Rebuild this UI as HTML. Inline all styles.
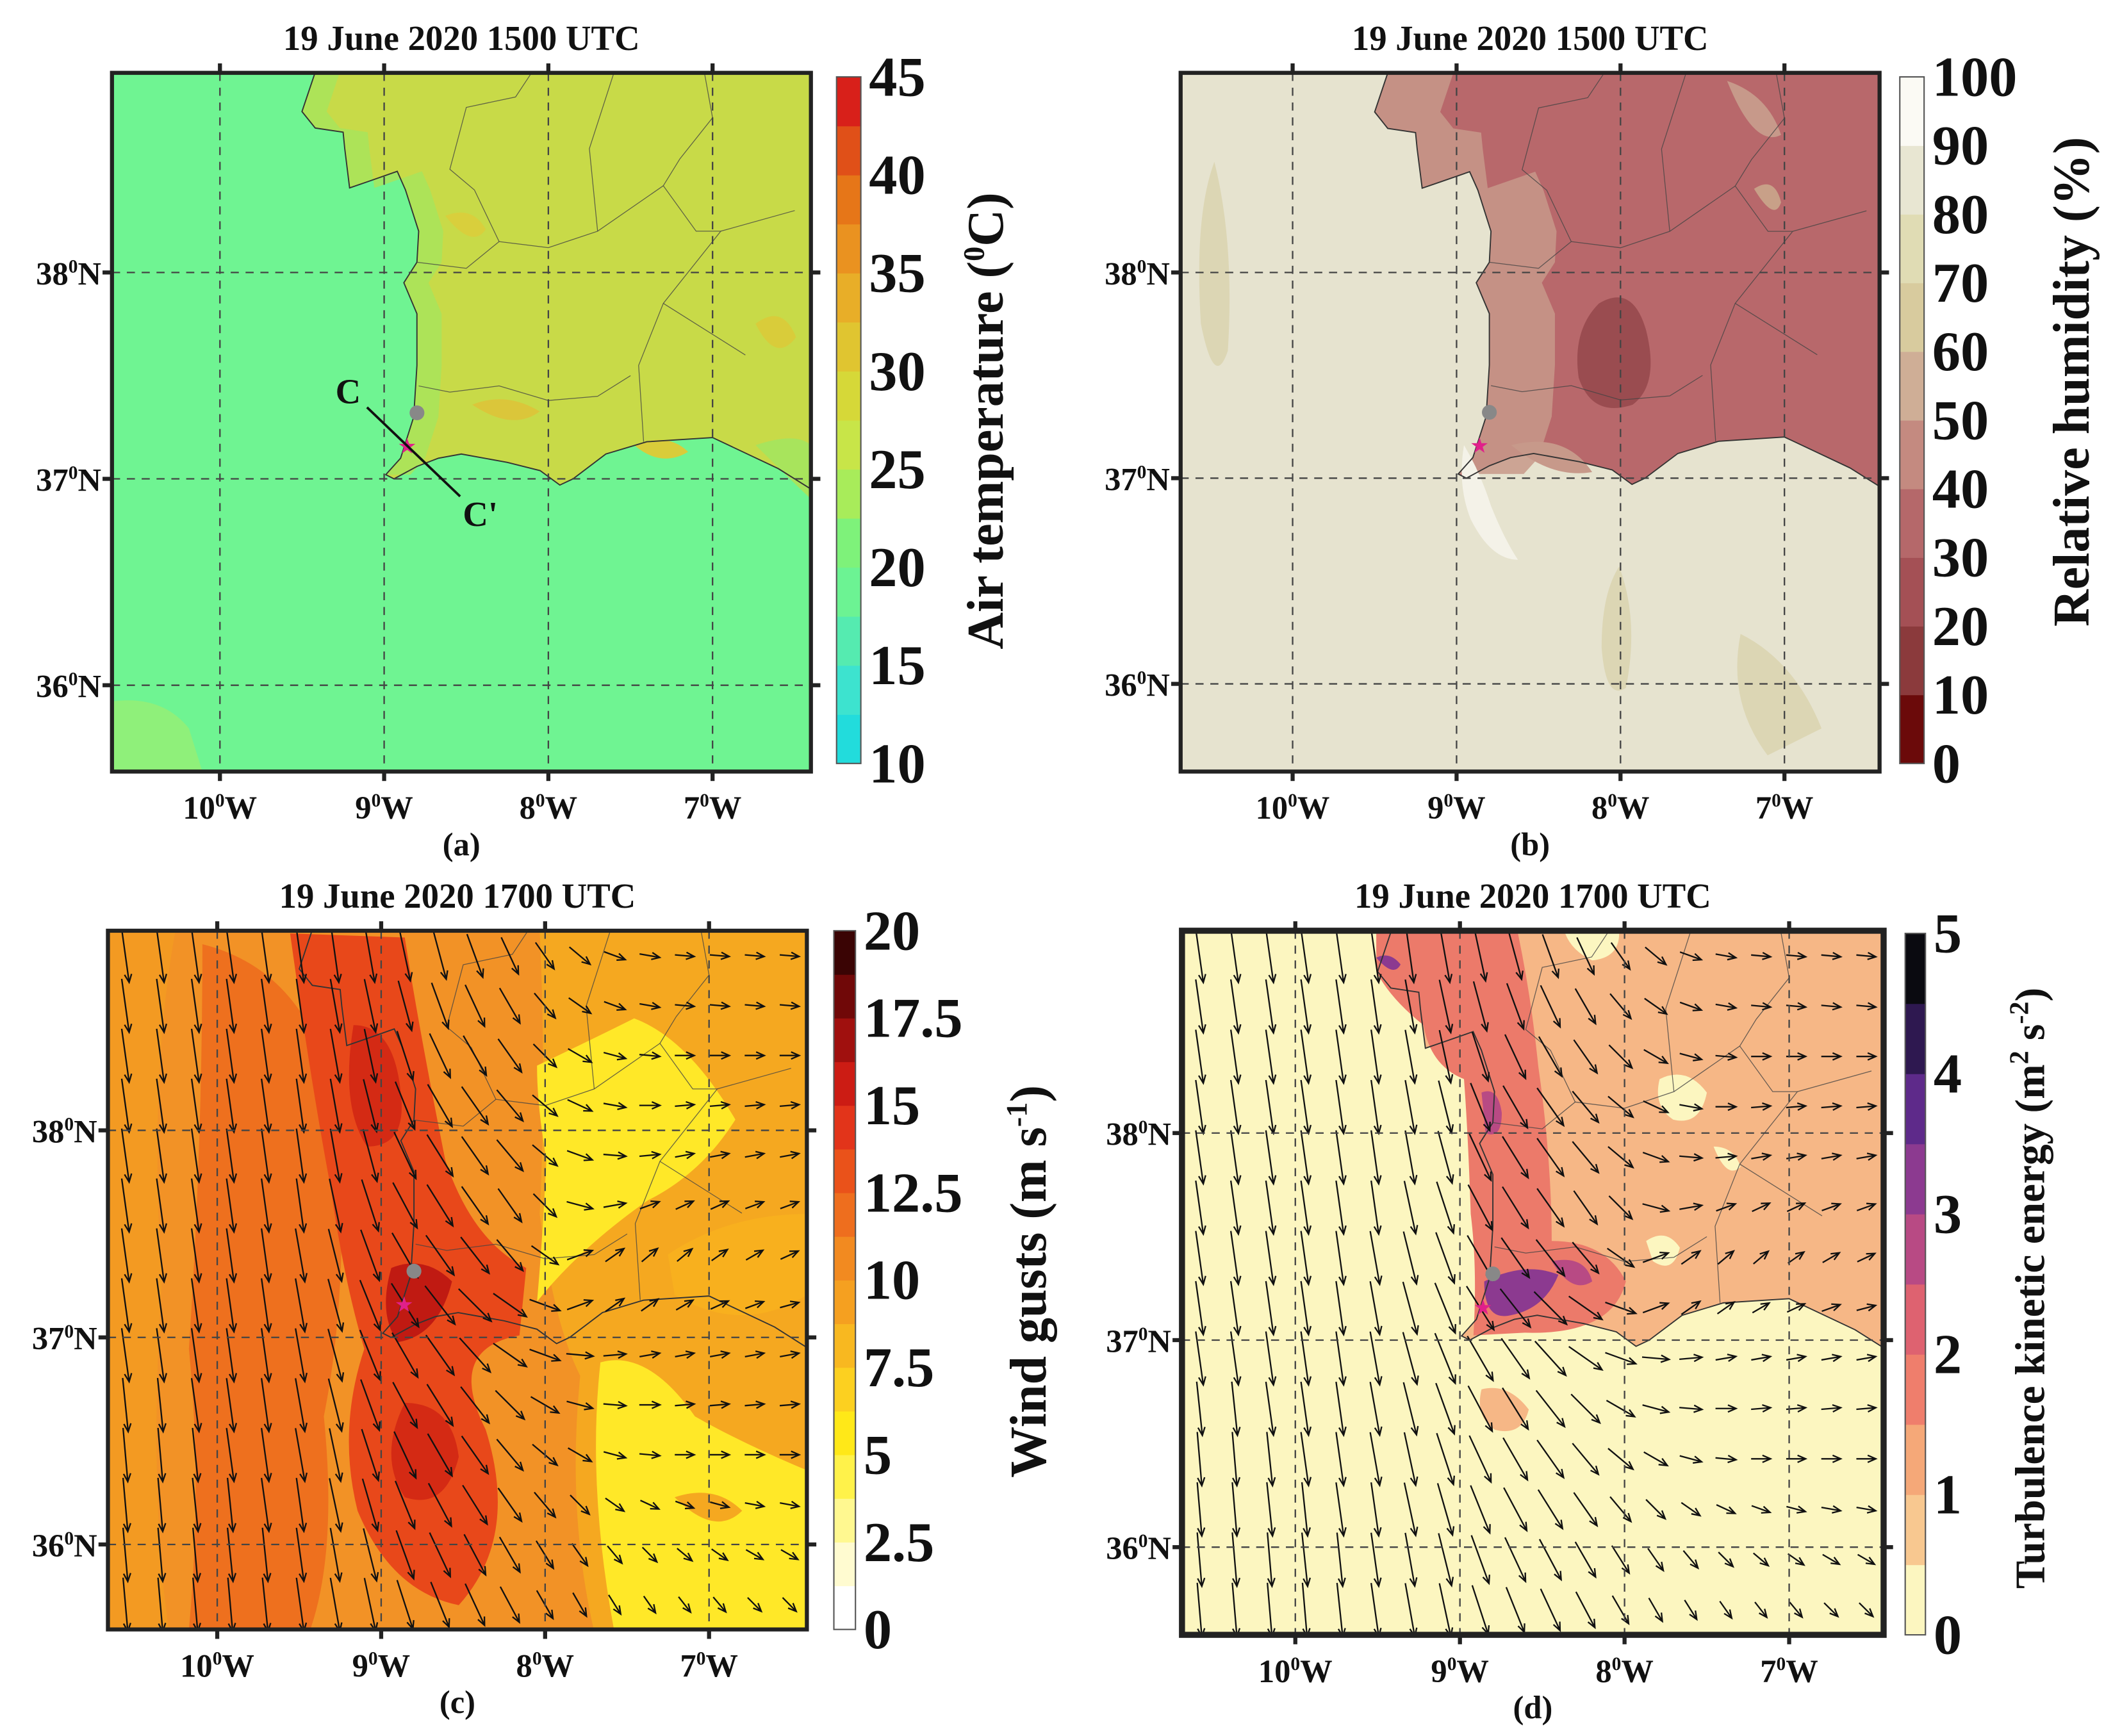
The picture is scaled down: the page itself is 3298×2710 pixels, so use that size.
<!DOCTYPE html>
<html><head><meta charset="utf-8">
<style>
html,body{margin:0;padding:0;background:#fff;}
svg{display:block;}
text{font-family:"Liberation Serif",serif;font-weight:bold;fill:#111;}
</style></head>
<body>
<svg id="fig" xmlns="http://www.w3.org/2000/svg" width="3298" height="2710" viewBox="0 0 1566 1287" preserveAspectRatio="none">
<rect x="0" y="0" width="1566" height="1287" fill="#fff"/>
</svg>
<script>
// ---- data arrays ----
const lonTicks = [-10, -9, -8, -7];
const lonTickLabels = ["10", "9", "8", "7"];
const latTicks = [38, 37, 36];
const latTickLabels = ["38", "37", "36"];

const tempLevels = [10,12.5,15,17.5,20,22.5,25,27.5,30,32.5,35,37.5,40,42.5,45];
const tempColors = ["#22dcdc","#3de3cf","#55ebb0","#6cf393","#7ef27a","#a8ec5a","#c8e548","#d6d838","#e0c530","#e8ae28","#ea9220","#e67618","#e05018","#d8201a"];
const tempTickLabels = ["10","15","20","25","30","35","40","45"];

const rhLevels = [0,10,20,30,40,50,60,70,80,90,100];
const rhColors = ["#6b0a0a","#8b3a3c","#a45055","#b5686a","#c48a80","#cfae96","#d8cb9e","#e0dcb4","#e8e6d2","#fbfaf4"];
const rhTickLabels = ["0","10","20","30","40","50","60","70","80","90","100"];

const gustLevels = [0,1.25,2.5,3.75,5,6.25,7.5,8.75,10,11.25,12.5,13.75,15,16.25,17.5,18.75,20];
const gustColors = ["#ffffff","#fffbd0","#fff890","#fff24a","#ffe818","#fcd020","#f8b820","#f5a020","#f28a20","#ee6e1e","#ea521a","#e2341a","#cc1c14","#a0100e","#700808","#3a0404"];
const gustTickLabels = ["0","2.5","5","7.5","10","12.5","15","17.5","20"];

const tkeLevels = [0,0.5,1,1.5,2,2.5,3,3.5,4,4.5,5];
const tkeColors = ["#fcf6c0","#f8c890","#f5a878","#ef7e6c","#de6270","#b84a84","#8c3a90","#5e2a8a","#2e1850","#0a0a10"];
const tkeTickLabels = ["0","1","2","3","4","5"];

// wind direction (deg from south, + toward east) per row/col; speed per column
const windAngles = [
[8,8,8,8,8,8,8,10,12,15,20,25,35,50,70,80,85,85,85,85],
[8,8,8,8,8,8,10,12,15,20,25,30,40,55,70,80,85,85,85,85],
[8,8,8,8,8,8,10,12,18,25,30,35,45,60,75,85,90,90,90,90],
[8,8,8,8,8,8,10,14,22,30,35,40,50,65,80,90,95,95,95,95],
[8,8,8,8,8,8,10,15,25,32,35,40,50,70,85,95,100,100,100,100],
[8,8,8,8,8,8,12,18,28,32,35,35,45,75,100,110,115,115,110,110],
[8,8,8,8,8,10,14,20,30,35,38,40,55,110,125,130,130,125,120,115],
[8,8,8,8,8,10,15,22,32,38,45,55,70,110,125,125,120,115,110,105],
[8,8,8,8,8,10,15,22,30,35,42,55,70,85,95,100,100,100,100,100],
[6,6,8,8,8,10,14,20,28,32,38,45,60,75,85,90,95,95,95,95],
[5,5,6,8,8,10,12,18,25,30,35,40,50,60,75,85,90,90,90,90],
[5,5,6,6,8,8,12,16,22,28,32,35,40,45,55,65,70,75,80,80],
[5,5,5,6,6,8,10,14,20,25,28,30,32,35,40,45,50,55,60,60],
[5,5,5,5,6,8,10,12,18,22,25,28,30,30,32,35,38,40,45,45]];
const windSpeed = [1,1,1,1,1,1,1,1,0.95,0.9,0.85,0.75,0.6,0.5,0.42,0.38,0.36,0.36,0.36,0.36];

// coastline & borders (lon, lat)
const landPoly = [[-9.41,39.3],[-9.42,38.97],[-9.50,38.78],[-9.42,38.70],[-9.25,38.68],[-9.24,38.60],[-9.21,38.41],[-9.10,38.44],[-8.92,38.49],[-8.87,38.40],[-8.79,38.20],[-8.80,38.05],[-8.88,37.95],[-8.80,37.80],[-8.80,37.55],[-8.82,37.30],[-8.90,37.10],[-8.99,37.02],[-8.94,37.0],[-8.80,37.06],[-8.67,37.10],[-8.53,37.12],[-8.25,37.08],[-8.05,37.04],[-7.93,36.97],[-7.85,37.0],[-7.65,37.12],[-7.40,37.18],[-7.0,37.2],[-6.6,37.05],[-6.3,36.9],[-6.0,36.8],[-6.0,39.3]];
const borders = [
[[-7.05,38.97],[-7.0,38.75],[-7.2,38.55],[-7.3,38.42],[-7.1,38.2],[-6.95,38.2],[-7.3,37.85],[-7.45,37.55],[-7.42,37.18]],
[[-8.79,37.45],[-8.6,37.42],[-8.3,37.45],[-8.0,37.38],[-7.7,37.40],[-7.5,37.5]],
[[-8.80,38.05],[-8.5,38.02],[-8.3,38.15],[-8.0,38.12],[-7.7,38.2],[-7.3,38.42]],
[[-8.3,38.15],[-8.45,38.4],[-8.6,38.5],[-8.5,38.8],[-8.2,38.85],[-8.1,38.97]],
[[-7.7,38.2],[-7.75,38.6],[-7.6,38.97]],
[[-6.95,38.2],[-6.5,38.3]],
[[-7.3,37.85],[-6.8,37.6]]];

// ---- drawing ----
const NS="http://www.w3.org/2000/svg";
const svg=document.getElementById('fig');
const SERIF='"Liberation Serif", serif';
function el(tag,attrs,parent){const e=document.createElementNS(NS,tag);for(const k in attrs)e.setAttribute(k,attrs[k]);(parent||svg).appendChild(e);return e;}

const panels={
 a:{fx:83,fy:54,fw:518,fh:518,x10:163,dx:121.7,y38:202,dy:153,title:"19 June 2020 1500 UTC",letter:"(a)",cb:{x:620,y:57,w:18,h:509},frame:3},
 b:{fx:875,fy:54,fw:518,fh:518,x10:958,dx:121.5,y38:202,dy:152.5,title:"19 June 2020 1500 UTC",letter:"(b)",cb:{x:1408,y:57,w:18,h:509},frame:3},
 c:{fx:80,fy:690,fw:518,fh:518,x10:161,dx:121.5,y38:838,dy:153.5,title:"19 June 2020 1700 UTC",letter:"(c)",cb:{x:618,y:690,w:16,h:518},frame:3},
 d:{fx:876,fy:690,fw:520,fh:522,x10:960,dx:122,y38:840,dy:153.5,title:"19 June 2020 1700 UTC",letter:"(d)",cb:{x:1412,y:692,w:15,h:520},frame:4.5}
};
function px(p,lon){return p.x10+(lon+10)*p.dx;}
function py(p,lat){return p.y38-(lat-38)*p.dy;}
function pathFrom(p,pts,close){return pts.map((q,i)=>(i?'L':'M')+px(p,q[0]).toFixed(1)+','+py(p,q[1]).toFixed(1)).join('')+(close?'Z':'');}

const panelStyles={
 a:{ocean:"#6ff492",land:"#c8da48",coast:"#a8e45c",cw:0.15,
    blobs:[["#8ff07a","M83,520 Q120,515 140,540 L150,572 L83,572Z"],["#d9cf3c","M330,160 q20,-8 30,10 q-10,15 -30,-10Z"],["#dbc63a","M350,300 q25,-10 50,5 q-20,15 -50,-5Z"],["#d9cc3a","M560,240 q20,-15 30,10 q-15,20 -30,-10Z"],["#d9cc3a","M470,330 q25,-10 40,5 q-20,12 -40,-5Z"],["#a8e45c","M560,330 Q590,320 601,330 L601,370 Q580,350 560,330Z"]]},
 b:{ocean:"#e6e3cf",land:"#b8686b",coast:"#c7998a",cw:0.4,
    blobs:[["#dcd6b4","M900,120 q15,60 10,140 q-10,30 -20,-20 q-5,-80 10,-120Z"],["#dcd6b4","M1200,420 q15,40 5,90 q-15,10 -18,-30 q0,-40 13,-60Z"],["#dcd6b4","M1290,470 q40,20 60,70 l-40,20 q-30,-40 -20,-90Z"],["#9a4c50","M1185,225 q25,-15 35,20 q10,40 -10,55 q-30,10 -40,-20 q-5,-35 15,-55Z"],["#c8a088","M1300,140 q15,-10 20,10 q-5,15 -20,-10Z"],["#c7998a","M1280,60 q30,10 40,40 q-20,10 -40,-40Z"],["#c7998a","M1120,330 q40,-10 60,20 q-30,5 -60,-20Z"],["#f4f2e8","M1085,330 q12,20 20,45 q10,25 20,40 q-20,0 -35,-30 q-10,-25 -5,-55Z"]]},
 c:{ocean:"#f29226",land:"#f29226",coast:null,
    blobs:[["#f39a22","M80,690 L130,690 Q110,800 120,950 Q110,1100 125,1208 L80,1208Z"],["#ee701e","M150,700 Q230,720 250,820 Q260,950 240,1050 Q250,1150 230,1208 L140,1208 Q150,1100 140,1000 Q150,850 150,700Z"],["#e8481a","M215,692 L300,695 Q310,760 330,860 Q350,920 390,940 L385,990 Q330,1000 360,1060 Q385,1140 340,1190 Q290,1180 265,1120 Q250,1060 270,1000 Q255,950 245,880 Q230,800 215,692Z"],["#d42a14","M262,760 q30,0 35,50 q5,40 -25,40 q-20,-30 -10,-90Z"],["#c01a12","M290,940 q25,-10 45,10 q-10,40 -40,45 q-15,-20 -5,-55Z"],["#d42a14","M300,1040 q35,0 40,40 q-10,40 -40,30 q-20,-30 0,-70Z"],["#f5a820","M400,690 L598,690 L598,1208 L440,1208 Q420,1120 430,1020 Q410,980 400,900 Q405,800 400,690Z"],["#ffe828","M398,790 Q440,770 470,755 Q510,770 545,830 Q520,870 480,890 Q430,925 398,965 Q402,920 405,860 Q398,820 398,790Z"],["#ffe828","M445,1010 Q480,1000 515,1050 Q550,1070 598,1090 L598,1208 L455,1208 Q435,1100 445,1010Z"],["#f8b01e","M495,930 Q540,900 598,900 L598,960 Q550,990 500,960Z"],["#f5a820","M500,1110 q30,-10 50,10 q-20,20 -50,-10Z"]]},
 d:{ocean:"#fcf6c0",land:"#f6b786",coast:null,
    blobs:[["#ec7a6a","M1020,692 L1125,692 Q1135,740 1140,790 Q1150,860 1150,920 Q1190,920 1205,950 Q1195,990 1130,988 L1092,990 Q1095,940 1090,900 Q1088,840 1085,800 Q1060,790 1055,760 Q1030,740 1020,720Z"],["#fcf6c0","M1160,692 L1200,692 Q1200,710 1180,712 Q1165,705 1160,692Z"],["#b84a84","M1098,810 q12,-5 15,15 q0,20 -12,15Z"],["#8c3a90","M1100,950 q30,-15 55,-5 q-10,25 -35,30 q-20,5 -20,-25Z"],["#b84a84","M1150,935 q25,-5 30,15 q-15,10 -30,-15Z"],["#8c3a90","M1020,710 q10,-5 18,5 q-5,10 -18,-5Z"],["#fcf6c0","M1230,800 q20,-10 35,10 q-5,25 -25,20 q-15,-10 -10,-30Z"],["#fcf6c0","M1270,850 q15,0 20,15 q-10,10 -20,-15Z"],["#fcf6c0","M1220,920 q15,-10 25,5 q-5,20 -20,10Z"],["#f6b786","M1098,1030 q20,-5 35,15 q-5,20 -25,15 q-15,-10 -10,-30Z"]]}
};

function drawPanel(key){
 const p=panels[key],st=panelStyles[key];
 const g=el('g',{});  
 const clipId='clip'+key;
 const cp=el('clipPath',{id:clipId},g); el('rect',{x:p.fx,y:p.fy,width:p.fw,height:p.fh},cp);
 const m=el('g',{'clip-path':'url(#'+clipId+')'},g);
  
 el('rect',{x:p.fx,y:p.fy,width:p.fw,height:p.fh,fill:st.ocean},m);
 if(key==='a'||key==='b'||key==='d'){
   el('path',{d:pathFrom(p,landPoly,true),fill:st.land},m);
 }
 if(st.coast){
   const band=landPoly.slice(1,18).map(q=>[q[0]+st.cw,q[1]]);
   const pts=landPoly.slice(1,18).concat(band.reverse());
   el('path',{d:pathFrom(p,pts,true),fill:st.coast,opacity:0.85},m);
 }
 st.blobs.forEach((b,i)=>{const e=el('path',{d:b[1],fill:b[0]},m);});
 const cl=el('path',{d:pathFrom(p,landPoly.slice(0,landPoly.length-1),false),fill:'none',stroke:'#333','stroke-width':0.9},m);
  
 borders.forEach(b=>{const e=el('path',{d:pathFrom(p,b,false),fill:'none',stroke:'#444','stroke-width':0.6,opacity:0.8},m);});
 if(key==='c'||key==='d'){
   const ag=el('g',{stroke:'#111','stroke-width':1.1,fill:'none'},m);
    
   const nx=windAngles[0].length, ny=windAngles.length;
   const sx=p.fw/nx, sy=p.fh/ny;
   windAngles.forEach((row,j)=>row.forEach((a,i)=>{
     const L=40*windSpeed[i]; const r=a*Math.PI/180;
     const ux=Math.sin(r),uy=Math.cos(r);
     const cx=p.fx+sx*(i+0.5), cy=p.fy+sy*(j+0.5);
     const x1=cx-ux*L/2,y1=cy-uy*L/2,x2=cx+ux*L/2,y2=cy+uy*L/2;
     const h=6, w=2.6;
     const hx1=x2-ux*h+uy*w, hy1=y2-uy*h-ux*w, hx2=x2-ux*h-uy*w, hy2=y2-uy*h+ux*w;
     const e=el('path',{d:`M${x1.toFixed(1)},${y1.toFixed(1)}L${x2.toFixed(1)},${y2.toFixed(1)}M${hx1.toFixed(1)},${hy1.toFixed(1)}L${x2.toFixed(1)},${y2.toFixed(1)}L${hx2.toFixed(1)},${hy2.toFixed(1)}`},ag);
      
   }));
 }
 lonTicks.forEach(l=>{const x=px(p,l);const e=el('line',{x1:x,y1:p.fy,x2:x,y2:p.fy+p.fh,stroke:'#444','stroke-width':1.1,'stroke-dasharray':'6,5'},m);});
 latTicks.forEach(l=>{const y=py(p,l);const e=el('line',{x1:p.fx,y1:y,x2:p.fx+p.fw,y2:y,stroke:'#444','stroke-width':1.1,'stroke-dasharray':'6,5'},m);});
 const dot=el('circle',{cx:px(p,-8.8),cy:py(p,37.32),r:5.5,fill:'#888'},m);  
 const star=el('text',{x:px(p,-8.86),y:py(p,37.16)+5,'font-size':14,'text-anchor':'middle',style:'fill:#e0208a'},m); star.textContent='★';  
 const fr=el('rect',{x:p.fx,y:p.fy,width:p.fw,height:p.fh,fill:'none',stroke:'#222','stroke-width':p.frame},g);
  
 lonTicks.forEach((l,i)=>{const x=px(p,l);
   el('line',{x1:x,y1:p.fy-7,x2:x,y2:p.fy,stroke:'#222','stroke-width':3},g);
   el('line',{x1:x,y1:p.fy+p.fh,x2:x,y2:p.fy+p.fh+7,stroke:'#222','stroke-width':3},g);
   const t=el('text',{x:x,y:p.fy+p.fh+35,'font-size':24,'text-anchor':'middle','font-family':SERIF},g);
    
   t.innerHTML=lonTickLabels[i]+'<tspan font-size="14" dy="-9">0</tspan><tspan dy="9">W</tspan>';
 });
 latTicks.forEach((l,i)=>{const y=py(p,l);
   el('line',{x1:p.fx-7,y1:y,x2:p.fx,y2:y,stroke:'#222','stroke-width':3},g);
   el('line',{x1:p.fx+p.fw,y1:y,x2:p.fx+p.fw+7,y2:y,stroke:'#222','stroke-width':3},g);
   const t=el('text',{x:p.fx-8,y:y+9,'font-size':24,'text-anchor':'end','font-family':SERIF},g);
    
   t.innerHTML=latTickLabels[i]+'<tspan font-size="14" dy="-9">0</tspan><tspan dy="9">N</tspan>';
 });
 const tt=el('text',{x:p.fx+p.fw/2,y:p.fy-17,'font-size':26,'text-anchor':'middle','font-family':SERIF},g); tt.textContent=p.title;
  
 const lt=el('text',{x:p.fx+p.fw/2,y:p.fy+p.fh+62,'font-size':24,'text-anchor':'middle','font-family':SERIF},g); lt.textContent=p.letter;
  
 return g;
}
['a','b','c','d'].forEach(drawPanel);

(function(){
 const l=el('line',{x1:272,y1:302,x2:341,y2:368,stroke:'#111','stroke-width':1.8});  
 const c1=el('text',{x:258,y:299,'font-size':26,'text-anchor':'middle','font-family':SERIF}); c1.textContent='C';  
 const c2=el('text',{x:356,y:390,'font-size':26,'text-anchor':'middle','font-family':SERIF}); c2.textContent="C'";  
})();

function colorbar(key,levels,colors,labels,labelVals,title,tx,ty,tfs,name){
 const cb=panels[key].cb; const g=el('g',{});  
 const lo=levels[0],hi=levels[levels.length-1];
 const yv=v=>cb.y+cb.h-(v-lo)/(hi-lo)*cb.h;
 colors.forEach((c,i)=>{const y1=yv(levels[i+1]),y0=yv(levels[i]);const r=el('rect',{x:cb.x,y:y1,width:cb.w,height:y0-y1+0.3,fill:c},g);});
 el('rect',{x:cb.x,y:cb.y,width:cb.w,height:cb.h,fill:'none',stroke:'#555','stroke-width':1},g);
 labels.forEach((s,i)=>{const t=el('text',{x:cb.x+cb.w+6,y:yv(labelVals[i])+14,'font-size':42,'font-family':SERIF,'font-weight':'bold'},g);t.textContent=s;});
 const t=el('text',{x:tx,y:ty,'font-size':tfs,'text-anchor':'middle','font-family':SERIF,transform:`rotate(-90 ${tx} ${ty})`},g);
 t.innerHTML=title;  
}
colorbar('a',tempLevels,tempColors,tempTickLabels,tempTickLabels.map(Number),'Air temperature (<tspan font-size="22" dy="-14">0</tspan><tspan dy="14">C)</tspan>',743,312,38,'colorbar-temperature');
colorbar('b',rhLevels,rhColors,rhTickLabels,rhTickLabels.map(Number),'Relative humidity (%)',1548,283,38,'colorbar-humidity');
colorbar('c',gustLevels,gustColors,gustTickLabels,gustTickLabels.map(Number),'Wind gusts (m s<tspan font-size="22" dy="-14">-1</tspan><tspan dy="14">)</tspan>',775,950,38,'colorbar-wind-gusts');
colorbar('d',tkeLevels,tkeColors,tkeTickLabels,tkeTickLabels.map(Number),'Turbulence kinetic energy (m<tspan font-size="20" dy="-12">2</tspan><tspan dy="12"> s</tspan><tspan font-size="20" dy="-12">-2</tspan><tspan dy="12">)</tspan>',1515,955,31,'colorbar-tke');
</script>
</body></html>
